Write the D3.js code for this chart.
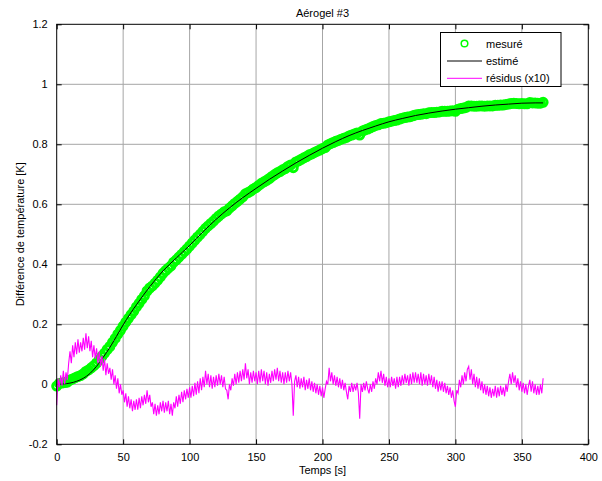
<!DOCTYPE html>
<html>
<head>
<meta charset="utf-8">
<script src="https://cdn.jsdelivr.net/npm/d3@7"></script>
<style>
html,body{margin:0;padding:0;background:#fff;}
svg{display:block;}
text{font-family:"Liberation Sans",Arial,Helvetica,sans-serif;font-size:11px;fill:#000;}
</style>
</head>
<body>
<svg id="chart" width="602" height="481"></svg>
<script>
// ---- data ----
const titleText = "Aérogel #3";
const xLabelText = "Temps [s]";
const yLabelText = "Différence de température [K]";
const legendLabels = ["mesuré", "estimé", "résidus (x10)"];
const xTicks = [0, 50, 100, 150, 200, 250, 300, 350, 400];
const yTicks = [-0.2, 0, 0.2, 0.4, 0.6, 0.8, 1, 1.2];

// estimated curve (time s, value K)
const estTime = [0,5,10,15,20,25,30,35,40,45,50,55,60,70,80,90,100,110,120,130,140,150,160,170,180,190,200,210,220,230,240,250,260,270,280,290,300,310,320,330,340,350,360,366];
const estValue = [0,0.001,0.004,0.01,0.02,0.036,0.06,0.09,0.123,0.16,0.198,0.233,0.265,0.325,0.378,0.421,0.463,0.508,0.55,0.588,0.622,0.653,0.683,0.711,0.738,0.763,0.787,0.809,0.829,0.846,0.861,0.875,0.886,0.896,0.904,0.911,0.917,0.922,0.927,0.931,0.934,0.937,0.938,0.938];

// measured values, one every 2 s starting at t = 0
const measStep = 2;
const measValue = [
-0.006,0.003,0.004,0.006,0.007,0.014,0.018,0.022,0.026,0.029,
0.035,0.043,0.048,0.055,0.062,0.071,0.082,0.093,0.104,0.116,
0.126,0.140,0.153,0.167,0.180,0.194,0.207,0.220,0.232,0.244,
0.258,0.270,0.283,0.295,0.311,0.321,0.328,0.337,0.347,0.358,
0.370,0.379,0.387,0.395,0.407,0.415,0.424,0.433,0.442,0.451,
0.461,0.471,0.481,0.491,0.500,0.510,0.520,0.528,0.536,0.544,
0.553,0.561,0.568,0.575,0.578,0.587,0.595,0.603,0.610,0.617,
0.625,0.635,0.639,0.644,0.651,0.656,0.663,0.670,0.675,0.680,
0.686,0.693,0.699,0.705,0.709,0.715,0.719,0.726,0.731,0.722,
0.741,0.745,0.750,0.755,0.759,0.765,0.768,0.773,0.777,0.781,
0.786,0.789,0.798,0.802,0.806,0.810,0.813,0.817,0.820,0.823,
0.828,0.831,0.834,0.838,0.831,0.844,0.848,0.851,0.855,0.859,
0.863,0.865,0.869,0.870,0.872,0.875,0.877,0.879,0.881,0.884,
0.887,0.889,0.891,0.892,0.895,0.898,0.899,0.900,0.902,0.902,
0.905,0.906,0.906,0.907,0.908,0.910,0.910,0.910,0.911,0.912,
0.910,0.917,0.919,0.921,0.923,0.928,0.928,0.927,0.927,0.928,
0.928,0.927,0.928,0.928,0.928,0.930,0.930,0.931,0.931,0.933,
0.934,0.936,0.937,0.936,0.935,0.936,0.935,0.935,0.939,0.938,
0.938,0.937,0.937,0.940];

// residuals x10, one every 1 s starting at t = 0
const resStep = 1;
const resValue = [
-0.07,0.02,-0.01,0.03,-0.005,0.045,0.0,0.04,0.015,0.07,
0.11,0.07,0.13,0.09,0.14,0.1,0.15,0.105,0.14,0.11,
0.155,0.115,0.17,0.12,0.16,0.11,0.145,0.09,0.13,0.085,
0.12,0.07,0.11,0.06,0.095,0.045,0.085,0.03,0.07,0.035,
0.055,0.015,0.05,0.0,0.03,-0.015,0.02,-0.03,0.0,-0.035,
-0.02,-0.06,-0.03,-0.075,-0.04,-0.08,-0.05,-0.09,-0.055,-0.085,
-0.05,-0.085,-0.045,-0.08,-0.04,-0.07,-0.035,-0.065,-0.02,-0.06,
-0.035,-0.075,-0.06,-0.1,-0.065,-0.105,-0.07,-0.1,-0.06,-0.09,
-0.055,-0.095,-0.06,-0.09,-0.055,-0.1,-0.065,-0.105,-0.06,-0.08,
-0.04,-0.075,-0.035,-0.065,-0.025,-0.06,-0.02,-0.05,-0.015,-0.045,
-0.01,-0.045,-0.005,-0.04,0.005,-0.035,0.01,-0.03,0.02,-0.02,
0.025,-0.01,0.045,0.0,0.035,-0.01,0.03,-0.015,0.025,-0.01,
0.03,-0.005,0.035,0.0,0.03,-0.01,0.025,-0.015,-0.02,-0.05,
0.0,-0.02,0.02,-0.005,0.035,0.0,0.04,0.005,0.045,0.01,
0.05,0.015,0.07,0.02,0.05,0.0,0.04,0.005,0.045,0.01,
0.04,0.0,0.045,0.005,0.05,0.01,0.045,0.0,0.04,-0.005,
0.035,0.005,0.045,0.01,0.05,0.015,0.055,0.01,0.045,0.005,
0.04,0.0,0.04,0.005,0.045,0.01,0.04,0.0,-0.105,0.01,
0.03,-0.01,0.025,-0.015,0.02,-0.01,0.025,-0.02,0.015,-0.015,
0.02,-0.02,0.01,-0.025,0.005,-0.03,0.0,-0.035,-0.005,-0.04,
-0.01,-0.045,-0.015,0.01,0.0,0.055,0.01,0.04,0.0,0.03,
-0.005,0.025,-0.01,0.02,-0.015,0.015,-0.02,0.005,-0.025,-0.05,
-0.005,-0.025,0.005,-0.025,0.0,-0.02,0.005,-0.03,-0.115,0.0,
-0.025,0.005,-0.02,0.01,-0.015,-0.03,0.0,-0.025,0.01,-0.015,
0.02,0.0,0.04,0.01,0.045,0.005,0.035,-0.005,0.025,-0.01,
0.02,-0.01,0.025,-0.005,0.02,-0.015,0.025,-0.01,0.025,-0.005,
0.03,0.0,0.035,0.005,0.03,-0.005,0.035,0.0,0.04,0.005,
0.04,0.005,0.035,0.0,0.04,-0.005,0.035,0.0,0.03,-0.005,
0.035,0.0,0.03,-0.01,0.025,-0.015,0.015,-0.025,0.01,-0.02,
0.01,-0.025,0.005,-0.03,-0.005,-0.035,-0.01,-0.045,-0.02,-0.055,
-0.075,-0.02,-0.03,0.015,-0.01,0.03,0.0,0.04,0.01,0.05,
0.06,0.015,0.05,0.0,0.035,-0.01,0.025,-0.015,0.02,-0.02,
0.01,-0.03,0.0,-0.035,-0.005,-0.04,-0.01,-0.045,-0.015,-0.04,
-0.005,-0.045,-0.01,-0.04,-0.005,-0.035,-0.01,-0.04,0.0,-0.025,
0.01,0.035,0.0,0.04,0.005,0.03,-0.01,0.02,-0.02,0.01,
-0.025,0.005,-0.03,0.0,-0.035,-0.005,0.015,-0.025,0.01,-0.03,
0.0,-0.035,-0.005,-0.035,0.0,-0.03,0.02];

// ---- layout ----
const svg = d3.select("#chart");
const L = 56.7, R = 588.3, T = 24.3, B = 444.3;
const x = d3.scaleLinear().domain([0, 400]).range([L, R]);
const y = d3.scaleLinear().domain([-0.2, 1.2]).range([B, T]);
const fmt = d => String(+d.toFixed(1));

svg.append("rect").attr("x", L).attr("y", T).attr("width", R - L).attr("height", B - T).attr("fill", "#fff");

// grid
const grid = svg.append("g").attr("stroke", "#a6a6a6").attr("stroke-width", 1);
xTicks.forEach(t => {
  if (t > 0 && t < 400) grid.append("line").attr("x1", x(t)).attr("x2", x(t)).attr("y1", T).attr("y2", B);
});
yTicks.forEach(t => {
  if (t > -0.2 && t < 1.2) grid.append("line").attr("x1", L).attr("x2", R).attr("y1", y(t)).attr("y2", y(t));
});

// axes with inward ticks
const axB = svg.append("g").attr("transform", `translate(0,${B})`).call(d3.axisBottom(x).tickValues(xTicks).tickFormat(fmt).tickSizeInner(-5).tickSizeOuter(0).tickPadding(9));
const axT = svg.append("g").attr("transform", `translate(0,${T})`).call(d3.axisTop(x).tickValues(xTicks).tickFormat("").tickSizeInner(-5).tickSizeOuter(0));
const axL = svg.append("g").attr("transform", `translate(${L},0)`).call(d3.axisLeft(y).tickValues(yTicks).tickFormat(fmt).tickSizeInner(-5).tickSizeOuter(0).tickPadding(9));
const axR = svg.append("g").attr("transform", `translate(${R},0)`).call(d3.axisRight(y).tickValues(yTicks).tickFormat("").tickSizeInner(-5).tickSizeOuter(0));
[axB, axT, axL, axR].forEach(a => {
  a.selectAll(".domain").remove();
  a.selectAll("line").attr("stroke", "#000");
  a.selectAll("text").attr("font-family", "Liberation Sans, Arial, sans-serif").attr("font-size", 11).attr("fill", "#000");
});

// data marks
const measData = measValue.map((v, i) => [i * measStep, v]);
const resData = resValue.map((v, i) => [i * resStep, v]);
const estData = estTime.map((t, i) => [t, estValue[i]]);

svg.append("g").selectAll("circle").data(measData).join("circle")
  .attr("cx", d => x(d[0])).attr("cy", d => y(d[1])).attr("r", 4)
  .attr("fill", "none").attr("stroke", "#00ff00").attr("stroke-width", 3);

svg.append("path").datum(estData)
  .attr("d", d3.line().x(d => x(d[0])).y(d => y(d[1])).curve(d3.curveMonotoneX))
  .attr("fill", "none").attr("stroke", "#000").attr("stroke-width", 1);

svg.append("path").datum(resData)
  .attr("d", d3.line().x(d => x(d[0])).y(d => y(d[1])))
  .attr("fill", "none").attr("stroke", "#ff00ff").attr("stroke-width", 1.1);

// frame
svg.append("rect").attr("x", L).attr("y", T).attr("width", R - L).attr("height", B - T)
  .attr("fill", "none").attr("stroke", "#000").attr("stroke-width", 1);

// labels
svg.append("text").attr("x", (L + R) / 2).attr("y", 17).attr("text-anchor", "middle").text(titleText);
svg.append("text").attr("x", (L + R) / 2).attr("y", 474).attr("text-anchor", "middle").text(xLabelText);
svg.append("text").attr("transform", `translate(24,${(T + B) / 2}) rotate(-90)`).attr("text-anchor", "middle").text(yLabelText);

// legend
const lg = svg.append("g");
lg.append("rect").attr("x", 440.5).attr("y", 32.5).attr("width", 120.5).attr("height", 54)
  .attr("fill", "#fff").attr("stroke", "#000").attr("stroke-width", 1);
const rowsY = [43.5, 61, 78.3];
lg.append("circle").attr("cx", 464.5).attr("cy", rowsY[0]).attr("r", 3.3)
  .attr("fill", "none").attr("stroke", "#00ff00").attr("stroke-width", 1.5);
lg.append("line").attr("x1", 447).attr("x2", 482).attr("y1", rowsY[1]).attr("y2", rowsY[1]).attr("stroke", "#000");
lg.append("line").attr("x1", 447).attr("x2", 482).attr("y1", rowsY[2]).attr("y2", rowsY[2]).attr("stroke", "#ff00ff");
legendLabels.forEach((s, i) => {
  lg.append("text").attr("x", 486).attr("y", rowsY[i] + 4).text(s);
});
</script>
</body>
</html>
